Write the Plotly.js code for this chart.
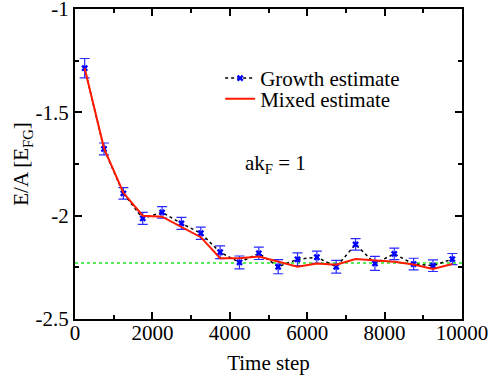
<!DOCTYPE html>
<html>
<head>
<meta charset="utf-8">
<script src="https://cdn.plot.ly/plotly-3.0.1.min.js"></script>
<style>html,body{margin:0;padding:0;background:#fff;}#chart{width:488px;height:380px;}</style>
</head>
<body>
<div id="chart"></div>
<script>
// Data
var timeSteps = [250, 750, 1250, 1750, 2250, 2750, 3250, 3750, 4250, 4750, 5250, 5750, 6250, 6750, 7250, 7750, 8250, 8750, 9250, 9750];
var growthEstimate = [-1.286, -1.677, -1.892, -2.013, -1.984, -2.037, -2.085, -2.177, -2.226, -2.182, -2.247, -2.211, -2.201, -2.247, -2.139, -2.231, -2.185, -2.234, -2.242, -2.210];
var growthError = [0.047, 0.029, 0.028, 0.029, 0.028, 0.029, 0.030, 0.031, 0.031, 0.030, 0.034, 0.031, 0.030, 0.031, 0.028, 0.034, 0.028, 0.028, 0.028, 0.027];
var mixedEstimate = [-1.286, -1.674, -1.889, -2.000, -2.005, -2.055, -2.104, -2.206, -2.206, -2.198, -2.223, -2.247, -2.231, -2.237, -2.210, -2.215, -2.223, -2.236, -2.258, -2.234];
var referenceX = [0, 10000];
var referenceY = [-2.229, -2.229];
var xTickVals = [0, 2000, 4000, 6000, 8000, 10000];
var xTickText = ['0', '2000', '4000', '6000', '8000', '10000'];
var yTickVals = [-2.5, -2, -1.5, -1];
var yTickText = ['-2.5', '-2', '-1.5', '-1'];

var FONT = 'Liberation Serif';
var FS = 21;

var traces = [
  {
    x: referenceX, y: referenceY, mode: 'lines', showlegend: false, hoverinfo: 'skip',
    line: {color: '#22e822', width: 1.5, dash: 'dot'}
  },
  {
    x: timeSteps, y: growthEstimate, name: 'Growth estimate', mode: 'lines+markers',
    legend: 'legend',
    line: {color: '#000000', width: 1.5, dash: 'dot'},
    marker: {symbol: 'x', size: 6, color: '#0000ff'},
    error_y: {type: 'data', array: growthError, visible: true, color: '#2a2aff', thickness: 1.2, width: 5}
  },
  {
    x: timeSteps, y: mixedEstimate, name: 'Mixed estimate', mode: 'lines',
    legend: 'legend2',
    line: {color: '#ff1a00', width: 2}
  }
];

var axisCommon = {
  showline: true, linecolor: '#000', linewidth: 2, mirror: 'ticks',
  ticks: 'inside', ticklen: 7, tickwidth: 2, tickcolor: '#000',
  showgrid: false, zeroline: false,
  tickfont: {family: FONT, size: FS, color: '#000'},
  ticklabeloverflow: 'allow',
  tickmode: 'array'
};

var legendCommon = {
  xanchor: 'left', yanchor: 'middle',
  bgcolor: 'rgba(0,0,0,0)', borderwidth: 0,
  font: {family: FONT, size: FS, color: '#000'},
  itemwidth: 30
};

var layout = {
  width: 488, height: 380,
  margin: {l: 75, r: 26, t: 9, b: 61},
  paper_bgcolor: '#fff', plot_bgcolor: '#fff',
  font: {family: FONT, size: FS, color: '#000'},
  xaxis: Object.assign({}, axisCommon, {
    range: [0, 10000], tickvals: xTickVals, ticktext: xTickText,
    ticklabelstandoff: -6,
    minor: {ticks: 'inside', ticklen: 4, tickwidth: 2, tickcolor: '#000', dtick: 1000, tick0: 0, showgrid: false},
    title: {text: 'Time step', font: {family: FONT, size: FS, color: '#000'}, standoff: 11}
  }),
  yaxis: Object.assign({}, axisCommon, {
    range: [-2.5, -0.9995], tickvals: yTickVals, ticktext: yTickText,
    minor: {ticks: 'inside', ticklen: 4, tickwidth: 2, tickcolor: '#000', dtick: 0.25, tick0: -2.5, showgrid: false},
    title: {text: 'E/A [E<sub>FG</sub>]', font: {family: FONT, size: FS, color: '#000'}, standoff: 0}
  }),
  legend: Object.assign({}, legendCommon, {x: 0.375, y: 0.776}),
  legend2: Object.assign({}, legendCommon, {x: 0.375, y: 0.709}),
  annotations: [
    {x: 4330, y: -1.75, xref: 'x', yref: 'y', xanchor: 'left', yanchor: 'middle', showarrow: false,
     text: 'ak<sub>F</sub> = 1', font: {family: FONT, size: FS, color: '#000'}}
  ]
};

Plotly.newPlot('chart', traces, layout, {displayModeBar: false, staticPlot: true});
</script>
</body>
</html>
